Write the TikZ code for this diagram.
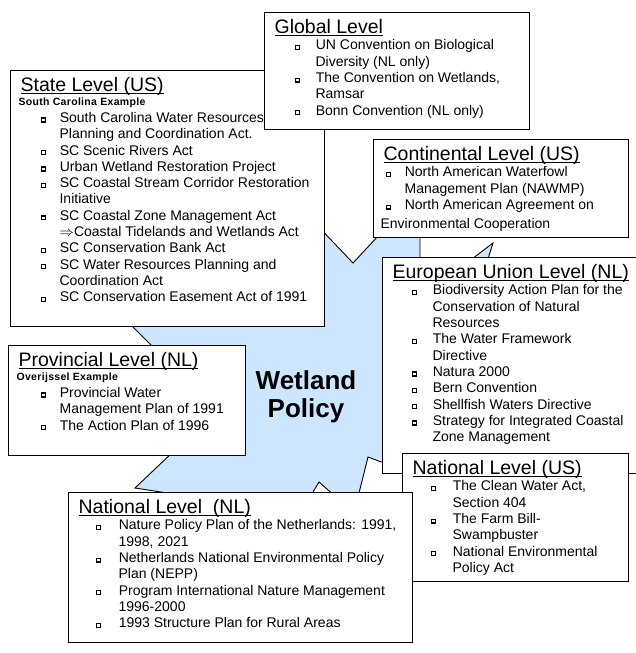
\documentclass[tikz,border=0pt]{standalone}
\usepackage{fontspec}
\setmainfont{Liberation Sans}
\usepackage{tikz}

\definecolor{burstblue}{RGB}{204,230,255}

\newcommand{\sqbul}{\raisebox{1.1pt}{\setlength{\fboxsep}{0pt}\setlength{\fboxrule}{1.3pt}\fbox{\rule{0pt}{2.6pt}\rule{2.6pt}{0pt}}}}
\newcommand{\ulin}[1]{\setbox0\hbox{#1}\rlap{\rule[-2.5pt]{\wd0}{0.9pt}}\box0}
\newcommand{\lvltitle}[1]{{\fontsize{19.5}{22}\selectfont\hspace*{10pt}\rule{0pt}{21pt}\ulin{#1}\par}}
\newcommand{\lvlsub}[1]{{\fontsize{10.5}{13.5}\selectfont\bfseries\addfontfeature{LetterSpace=3}\hspace*{8pt}#1\par}\vspace{1pt}}
\newenvironment{lvlbody}[2]{\begin{minipage}[t][#2][t]{#1}\fontsize{14}{16.3}\selectfont\lineskiplimit=-20pt\lineskip=0pt\raggedright}{\end{minipage}}
\newenvironment{lvlitems}[2]{\begin{list}{\sqbul}{\setlength{\leftmargin}{#1}\setlength{\labelsep}{#2}\setlength{\labelwidth}{5pt}\setlength{\itemsep}{0pt}\setlength{\parsep}{0pt}\setlength{\topsep}{0pt}\setlength{\partopsep}{0pt}\setlength{\itemindent}{0pt}}}{\end{list}}

\tikzset{
  lvlbox/.style={draw, line width=1.2pt, fill=white, anchor=north west, inner sep=0pt},
  burst/.style={draw, fill=burstblue, line width=0.9pt, line join=miter}
}

\begin{document}
\begin{tikzpicture}[x=1pt, y=-1pt]
\useasboundingbox (0,0) rectangle (635,653);

% the wetland policy starburst
\path[burst] (120,314) -- (200,200) -- (300,150) -- (315,223) -- (353,263) -- (380,234)
  -- (420,234) -- (420,262) -- (468,262) -- (493,243) -- (487,262) -- (560,380)
  -- (392,466) -- (368,457) -- (358,497) -- (336,497) -- (319,482) -- (310,497)
  -- (180,495) -- (135,488) -- (175,450) -- (160,354) -- cycle;

\node[lvlbox] (state) at (10,70) {\begin{lvlbody}{314pt}{256pt}
  \lvltitle{State Level (US)}
  \lvlsub{South Carolina Example}
  \begin{lvlitems}{49pt}{14pt}
  \item South Carolina Water Resources\\Planning and Coordination Act.
  \item SC Scenic Rivers Act
  \item Urban Wetland Restoration Project
  \item SC Coastal Stream Corridor Restoration\\Initiative
  \item SC Coastal Zone Management Act\\$\Rightarrow$Coastal Tidelands and Wetlands Act
  \item SC Conservation Bank Act
  \item SC Water Resources Planning and\\Coordination Act
  \item SC Conservation Easement Act of 1991
  \end{lvlitems}
\end{lvlbody}};

\node[lvlbox] (global) at (264,12) {\begin{lvlbody}{265pt}{117pt}
  \lvltitle{Global Level}
  \begin{lvlitems}{51pt}{16pt}
  \item UN Convention on Biological\\Diversity (NL only)
  \item The Convention on Wetlands,\\Ramsar
  \item Bonn Convention (NL only)
  \end{lvlitems}
\end{lvlbody}};

\node[lvlbox] (conti) at (373,139) {\begin{lvlbody}{255pt}{98pt}
  \lvltitle{Continental Level (US)}
  \begin{lvlitems}{31pt}{13.5pt}
  \item North American Waterfowl\\Management Plan (NAWMP)
  \item North American Agreement on\\[3pt]\hspace*{-24pt}Environmental Cooperation
  \end{lvlitems}
\end{lvlbody}};

\node[lvlbox] (eu) at (382,257) {\begin{lvlbody}{262pt}{216pt}
  \lvltitle{European Union Level (NL)}
  \begin{lvlitems}{50pt}{15.5pt}
  \item Biodiversity Action Plan for the\\Conservation of Natural\\Resources
  \item The Water Framework\\Directive
  \item Natura 2000
  \item Bern Convention
  \item Shellfish Waters Directive
  \item Strategy for Integrated Coastal\\Zone Management
  \end{lvlitems}
\end{lvlbody}};

\node[lvlbox] (natus) at (402,453) {\begin{lvlbody}{226pt}{128pt}
  \lvltitle{National Level (US)}
  \begin{lvlitems}{50pt}{16.5pt}
  \item The Clean Water Act,\\Section 404
  \item The Farm Bill-\\Swampbuster
  \item National Environmental\\Policy Act
  \end{lvlitems}
\end{lvlbody}};

\node[lvlbox] (natnl) at (68,492) {\begin{lvlbody}{344pt}{150pt}
  \lvltitle{National Level~~(NL)}
  \begin{lvlitems}{50pt}{17.5pt}
  \item Nature Policy Plan of the Netherlands: 1991,\\1998, 2021
  \item Netherlands National Environmental Policy\\Plan (NEPP)
  \item Program International Nature Management\\1996-2000
  \item 1993 Structure Plan for Rural Areas
  \end{lvlitems}
\end{lvlbody}};

\node[lvlbox] (prov) at (8,345) {\begin{lvlbody}{237pt}{110pt}
  \lvltitle{Provincial Level (NL)}
  \lvlsub{Overijssel Example}
  \begin{lvlitems}{51pt}{13.5pt}
  \item Provincial Water\\Management Plan of 1991
  \item The Action Plan of 1996
  \end{lvlitems}
\end{lvlbody}};

\node[font=\fontsize{26}{28}\selectfont\bfseries, align=center] (policy) at (306,397) {Wetland\\Policy};
\end{tikzpicture}
\end{document}
